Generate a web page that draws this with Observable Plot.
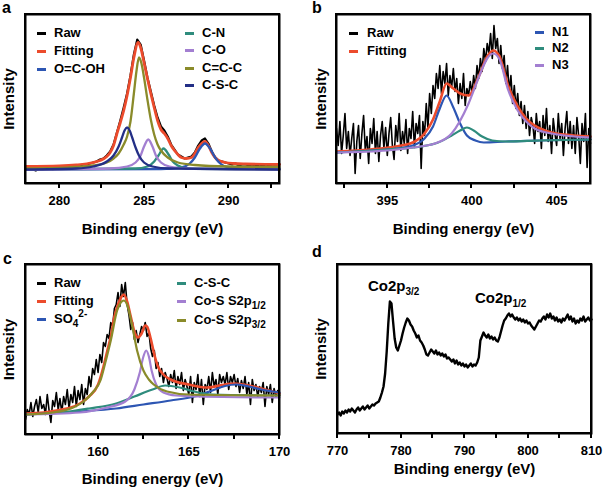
<!DOCTYPE html>
<html><head><meta charset="utf-8">
<script src="https://cdn.jsdelivr.net/npm/d3@7"></script>
<script src="https://cdn.jsdelivr.net/npm/@observablehq/plot@0.6"></script>
<style>
body{margin:0;background:#fff;}
#wrap{position:relative;width:605px;height:487px;font-family:"Liberation Sans",Arial,sans-serif;font-weight:bold;color:#000;overflow:hidden;}
.panel{position:absolute;}
.panel svg{overflow:visible;}
.frm{position:absolute;box-sizing:border-box;border:2px solid #000;pointer-events:none;}
.tk{position:absolute;width:2px;height:4px;background:#000;}
.lg{position:absolute;display:flex;align-items:center;height:14px;font-size:13px;line-height:14px;white-space:nowrap;}
.lg i{display:inline-block;width:9px;height:3px;flex:none;}
.letter{position:absolute;font-size:16px;line-height:16px;}
.ann{position:absolute;font-size:15px;line-height:15px;white-space:nowrap;}
sub{font-size:10px;vertical-align:-4px;line-height:0;}
sup{font-size:10px;vertical-align:6px;line-height:0;}
</style></head>
<body><div id="wrap"></div>
<script>
// ---------- colours ----------
const colRaw = "#000000", colFit = "#ec4b2c", colBlue = "#2d56b3", colTeal = "#2f8c7d",
      colPurple = "#a37fd1", colOlive = "#8a8b2a", colNavy = "#232f86";

// ---------- panel a : C1s ----------
const aRawStart = 278, aRawStep = 0.2;
const aRaw = [15,14,15,13,15,14,15,16,14,15, 16,15,16,17,16,17,18,19,19,20,
  21,22,24,25,28,32,39,51,63,76, 90,108,129,144,139,123,106,92,78,66,
  57,53,47,39,34,29,27,25,26,27, 31,38,43,45,40,32,26,23,22,21,
  20,19,20,18,19,19,18,19,17,19, 18,19,18,19,18,19];
const aFit = [[278,17],[280,17.5],[281,18.5],[282,21],[282.4,23],[282.8,27],[283,31],[283.2,38],[283.4,50],[283.6,61],[283.8,73],[284,88],[284.2,106],[284.4,126],[284.65,141],[284.8,136],[285,121],[285.2,105],[285.4,90],[285.6,76],[285.8,63],[286,54],[286.2,50],[286.4,45],[286.6,38],[286.8,33],[287,29],[287.2,26],[287.5,25],[287.8,26],[288,30],[288.2,36],[288.4,40],[288.6,42],[288.8,38],[289,31],[289.2,26],[289.4,23],[289.8,21],[290.3,20],[291,19.5],[293,19]];
const aOCOH = [[278,14],[286,14.5],[287.2,16],[287.7,20],[288,26],[288.3,35],[288.6,40],[288.9,35],[289.2,26],[289.5,20],[290,16],[291,15],[293,15]];
const aCN = [[278,14],[284.5,15],[285.2,17],[285.6,22],[285.85,28],[286.15,35],[286.45,29],[286.7,22],[287,18],[287.6,15],[293,14]];
const aCO = [[278,14],[283,15],[284,17],[284.5,21],[284.8,28],[285,37],[285.25,44],[285.5,37],[285.7,28],[286,21],[286.5,17],[287.5,15],[293,14]];
const aCCC = [[278,15],[280,15.5],[281,16.5],[282,18],[282.8,21],[283.2,25],[283.5,30],[283.8,39],[284,47],[284.2,62],[284.4,90],[284.55,112],[284.7,126],[284.85,120],[285,106],[285.2,84],[285.4,64],[285.6,49],[285.8,39],[286,33],[286.4,26],[287,21],[288,18.5],[290,17],[293,16.5]];
const aCSC = [[278,14],[281,15],[282,17],[282.8,22],[283.2,28],[283.5,37],[283.7,46],[283.85,53],[284,56],[284.15,53],[284.3,46],[284.5,36],[284.7,28],[285,21],[285.5,17],[286.5,15],[293,14]];
const aTicks = [280, 285, 290], aMinor = [282.5, 287.5, 292.5];

// ---------- panel b : N1s ----------
const bRawStart = 392, bRawStep = 0.1;
const bRaw = [55,38,62,30,48,70,35,52,28,45, 60,10,42,58,25,50,68,33,47,20,
  55,40,65,30,52,22,48,62,35,56, 28,50,66,38,24,58,42,70,33,52,
  40,64,30,55,45,72,36,60,50,68, 15,62,48,80,55,90,70,98,85,110,
  95,118,90,112,100,120,88,108,96,115, 92,105,80,100,85,110,78,95,88,102,
  90,108,95,118,105,125,112,135,122,140, 130,150,125,158,135,145,120,138,115,128,
  100,118,92,108,80,98,75,90,68,82, 60,78,55,72,48,66,58,40,70,52,
  62,35,68,48,75,42,58,30,65,50, 38,70,45,60,28,55,72,40,62,35,
  58,30,66,48,20,60,42,70,16,55, 40];
const bFit = [[392,32],[394,34],[395.5,37],[396.5,41],[397.2,50],[397.7,64],[398.1,82],[398.5,100],[398.9,95],[399.3,90],[399.8,88],[400.4,107],[400.9,127],[401.25,133],[401.6,128],[402.15,97],[402.7,77],[403.2,65],[403.7,58],[404.7,51],[406,48],[407,47]];
const bN1 = [[392,31],[394,33],[395.5,35],[396.5,38],[397.2,45],[397.7,57],[398.1,75],[398.5,88],[398.9,76],[399.3,60],[399.7,48],[400.2,43],[400.7,41],[402,42],[404,43],[407,44]];
const bN2 = [[392,31],[395,34],[397,37],[398,41],[398.8,48],[399.3,53],[399.7,56],[400.1,53],[400.6,47],[401.2,43],[402,42],[404,43],[407,44]];
const bN3 = [[392,31],[395,33],[396.5,36],[397.8,40],[398.8,50],[399.8,80],[400.4,106],[400.9,125],[401.25,130],[401.6,125],[402.15,93],[402.7,73],[403.2,62],[403.7,55],[404.7,50],[406,47],[407,46]];
const bTicks = [395, 400, 405], bMinor = [392.5, 397.5, 402.5];

// ---------- panel c : S2p ----------
const cRawStart = 156, cRawStep = 0.1;
const cRaw = [15,25,20,32,18,28,35,22,38,26, 30,20,40,24,12,34,28,42,25,36,
  22,38,30,45,26,40,32,48,28,44, 35,50,30,46,40,58,48,66,60,75,
  62,80,72,92,88,100,96,112,108,126, 130,142,128,150,138,152,130,120,105,112,
  95,104,92,100,108,104,112,98,102,86, 78,84,66,72,58,66,52,62,56,48,
  60,52,64,46,58,50,62,44,55,48, 40,58,32,52,45,60,38,55,30,50,
  45,58,42,62,48,55,40,60,52,58, 50,62,45,58,52,60,48,56,42,54,
  46,58,40,52,30,55,44,50,38,48, 42,52,28,48,40,50,32,46,38,44, 40];
const cFitD = [[156,21],[157,22],[158,25],[158.5,27],[159,31],[159.5,38],[160,50],[160.3,68],[160.5,83],[160.7,98],[160.9,118],[161.1,130],[161.3,138],[161.42,140],[161.6,133],[161.8,118],[162,103],[162.2,97],[162.4,101],[162.6,109],[162.7,108],[162.9,96],[163.1,80],[163.3,68],[163.6,60],[164,55],[165,50],[166,47],[167,50],[167.5,51],[168,50],[169,46],[170,41]];
const cSO4 = [[156,20],[159,23],[161,26],[162.5,30],[164,34],[165.3,38],[166.3,44],[167,48.5],[167.6,50],[168.3,48],[169,45],[170,42]];
const cCSC = [[156,20],[158,22],[159.5,26],[161,31],[162,38],[163,45],[163.7,49],[164.5,47],[165.3,43],[166.3,40],[170,39]];
const cS12 = [[156,20],[159,22],[160.5,27],[161.5,33],[162,45],[162.3,62],[162.5,78],[162.65,84],[162.8,78],[162.95,64],[163.2,50],[163.6,42],[164.3,39],[165.5,38],[170,37]];
const cS32 = [[156,20],[157.5,22],[158.5,26],[159.2,33],[159.7,42],[160.13,54],[160.4,72],[160.7,94],[161.05,124],[161.25,132],[161.42,134],[161.6,130],[161.9,107],[162.15,84],[162.5,64],[162.8,55],[163.07,50],[163.8,43],[165,40],[170,39]];
const cTicks = [160, 165, 170], cMinor = [157.5, 162.5, 167.5];

// ---------- panel d : Co2p ----------
const dRawStart = 770, dRawStep = 0.25;
const dRaw = [19,21,18,22,20,23,21,24, 22,25,23,21,24,26,23,25, 27,24,26,28,25,27,29,28,
  30,31,32,36,41,47,60,82, 110,132,130,112,95,86,83,88, 93,100,106,111,115,113,109,107,
  103,100,96,98,93,91,88,84, 79,78,81,84,82,80,83,79, 81,78,80,77,79,75,76,74,
  72,74,70,73,69,71,68,70, 67,69,66,68,70,67,69,68, 71,76,93,97,101,98,96,99,
  95,97,94,96,93,92,96,102, 108,113,115,118,120,117,119,116, 114,116,113,115,112,114,111,113,
  110,111,108,106,104,107,110,113, 112,115,117,114,119,116,120,115, 117,113,116,112,114,111,115,113,
  116,119,114,117,112,115,110,113, 111,115,113,117,112,114,116,113, 114];
const dTicks = [770, 780, 790, 800, 810], dMinor = [775, 785, 795, 805];

// ---------- legends / labels ----------
const aLegL = [["Raw", colRaw], ["Fitting", colFit], ["O=C-OH", colBlue]];
const aLegR = [["C-N", colTeal], ["C-O", colPurple], ["C=C-C", colOlive], ["C-S-C", colNavy]];
const bLegL = [["Raw", colRaw], ["Fitting", colFit]];
const bLegR = [["N1", colBlue], ["N2", colTeal], ["N3", colPurple]];
const cLegL = [["Raw", colRaw], ["Fitting", colFit], ["SO<sub>4</sub><sup>2-</sup>", colBlue]];
const cLegR = [["C-S-C", colTeal], ["Co-S S2p<sub>1/2</sub>", colPurple], ["Co-S S2p<sub>3/2</sub>", colOlive]];
const xTitle = "Binding energy (eV)", yTitle = "Intensity";

// ---------- helpers ----------
const wrap = document.getElementById("wrap");
const toPts = (start, step, vals) => vals.map((v, i) => [start + i * step, v]);
const line = (data, stroke, w, curve = "monotone-x") =>
  Plot.line(data, {x: d => d[0], y: d => d[1], stroke, strokeWidth: w, curve});

function panel({left, top, width, height, ml, mr, mt, mb, xdom, ymax, ticks, minor, lox, loy, marks}) {
  const svg = Plot.plot({
    width, height, marginLeft: ml, marginRight: mr, marginTop: mt, marginBottom: mb,
    x: {type: "linear", domain: xdom}, y: {type: "linear", domain: [0, ymax]},
    style: {fontFamily: '"Liberation Sans", Arial, sans-serif', fontWeight: "bold", fontSize: "13px", color: "#000", background: "transparent", overflow: "visible"},
    marks: [
      ...marks,
      Plot.axisX({ticks, tickSize: 0, tickPadding: 12, tickFormat: d => String(d), label: null, fontSize: 13}),
      Plot.axisX({ticks: [], tickSize: 0, label: xTitle, labelAnchor: "center", labelArrow: "none", labelOffset: lox, fontSize: 15}),
      Plot.axisY({ticks: [], tickSize: 0, label: yTitle, labelAnchor: "center", labelArrow: "none", labelOffset: loy, fontSize: 15}),
      Plot.frame({stroke: "#000", strokeWidth: 2})
    ]
  });
  const div = document.createElement("div");
  div.className = "panel";
  div.style.left = left + "px"; div.style.top = top + "px";
  div.appendChild(svg);
  wrap.appendChild(div);

  // x positions from the plot's x scale (with an equivalent linear scale as fallback)
  const fallback = d3.scaleLinear().domain(xdom).range([ml, width - mr]);
  let sx = null;
  try { sx = svg.scale("x"); } catch (e) { sx = null; }
  const px = v => {
    const p = sx && typeof sx.apply === "function" ? sx.apply(v) : NaN;
    return Number.isFinite(p) ? p : fallback(v);
  };
  const fx0 = ml, fy0 = mt, fw = width - ml - mr, fh = height - mt - mb;
  const f = document.createElement("div");
  f.className = "frm";
  f.style.left = (left + fx0 - 1) + "px";
  f.style.top = (top + fy0 - 1) + "px";
  f.style.width = (fw + 2) + "px";
  f.style.height = (fh + 2) + "px";
  wrap.appendChild(f);
  ticks.concat(minor).forEach(t => {
    const k = document.createElement("div");
    k.className = "tk";
    k.style.left = (left + px(t) - 1) + "px";
    k.style.top = (top + fy0 + fh + 1) + "px";
    wrap.appendChild(k);
  });
}

function legend(items, x, ys, gap) {
  items.forEach(([t, c], i) => {
    const d = document.createElement("div");
    d.className = "lg";
    d.style.left = x + "px"; d.style.top = (ys[i] - 7) + "px";
    d.innerHTML = `<i style="background:${c}"></i><span style="margin-left:${gap}px">${t}</span>`;
    wrap.appendChild(d);
  });
}
function text(cls, html, x, y) {
  const d = document.createElement("div");
  d.className = cls; d.style.left = x + "px"; d.style.top = y + "px";
  d.innerHTML = html;
  wrap.appendChild(d);
}

// ---------- draw ----------
panel({left: 0, top: 0, width: 300, height: 240, ml: 25, mr: 21, mt: 14, mb: 57,
  xdom: [278, 293], ymax: 169, ticks: aTicks, minor: aMinor, lox: 50, loy: 22,
  marks: [
    line(toPts(aRawStart, aRawStep, aRaw), colRaw, 2.2, "linear"),
    line(aFit, colFit, 2.8),
    line(aOCOH, colBlue, 2.3), line(aCN, colTeal, 2.3), line(aCO, colPurple, 2.3),
    line(aCCC, colOlive, 2.3), line(aCSC, colNavy, 2.3)
  ]});
panel({left: 300, top: 0, width: 305, height: 240, ml: 36, mr: 15, mt: 14, mb: 57,
  xdom: [392, 407], ymax: 169, ticks: bTicks, minor: bMinor, lox: 50, loy: 21,
  marks: [
    line(toPts(bRawStart, bRawStep, bRaw), colRaw, 1.6, "linear"),
    line(bFit, colFit, 2.6),
    line(bN1, colBlue, 2.2), line(bN2, colTeal, 2.2), line(bN3, colPurple, 2.2)
  ]});
panel({left: 0, top: 240, width: 300, height: 247, ml: 25, mr: 21, mt: 24, mb: 53,
  xdom: [156, 170], ymax: 170, ticks: cTicks, minor: cMinor, lox: 49, loy: 22,
  marks: [
    line(toPts(cRawStart, cRawStep, cRaw), colRaw, 1.6, "linear"),
    line(cFitD, colFit, 2.6),
    line(cSO4, colBlue, 2.2), line(cCSC, colTeal, 2.2), line(cS12, colPurple, 2.2), line(cS32, colOlive, 2.2)
  ]});
panel({left: 300, top: 240, width: 305, height: 247, ml: 37, mr: 14, mt: 24, mb: 54,
  xdom: [770, 810], ymax: 169, ticks: dTicks, minor: dMinor, lox: 40, loy: 22,
  marks: [
    line(toPts(dRawStart, dRawStep, dRaw), colRaw, 2.4, "linear")
  ]});

legend(aLegL, 37, [33, 51, 69], 8);
legend(aLegR, 185, [33, 50, 68, 85], 8);
legend(bLegL, 349, [33, 51], 9);
legend(bLegR, 535, [32, 48, 65], 8);
legend(cLegL, 37, [283, 301, 319], 8);
legend(cLegR, 177, [283, 301, 320], 8);

text("letter", "a", 2, 0);
text("letter", "b", 312, 0);
text("letter", "c", 3, 251);
text("letter", "d", 312, 244);
text("ann", "Co2p<sub>3/2</sub>", 368, 278);
text("ann", "Co2p<sub>1/2</sub>", 475, 290);
</script></body></html>
